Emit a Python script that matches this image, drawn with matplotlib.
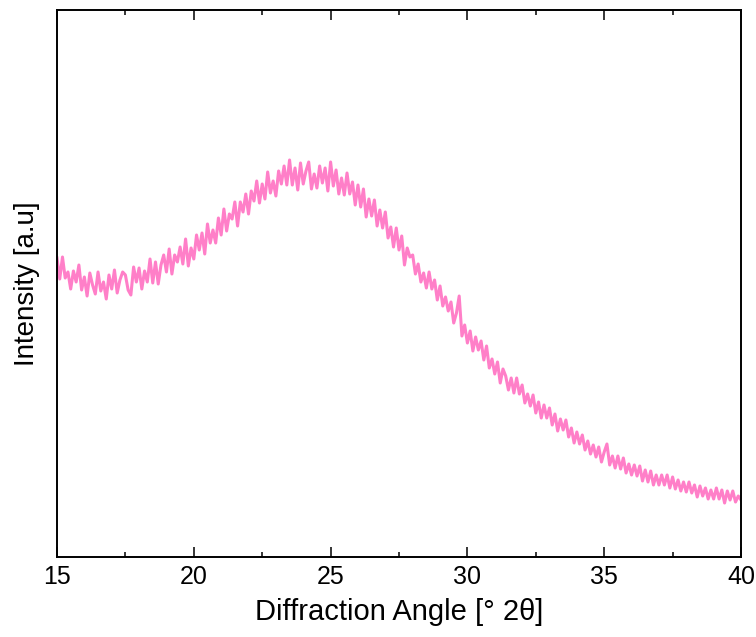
import numpy as np
import matplotlib.pyplot as plt

# XRD-mönster, 15-40 grader 2theta, steg 0.1
angle_start = 15.0
angle_step = 0.1
intensity = [
    299, 278, 300, 279, 285, 268, 286, 275, 292, 267,
    280, 261, 284, 272, 263, 285, 266, 275, 258, 282,
    268, 287, 264, 277, 285, 282, 267, 262, 290, 275,
    289, 268, 286, 275, 298, 274, 295, 273, 292, 302,
    285, 308, 283, 302, 295, 310, 293, 318, 291, 309,
    298, 322, 307, 324, 303, 333, 314, 327, 314, 339,
    322, 348, 326, 343, 338, 355, 331, 355, 345, 363,
    343, 366, 356, 376, 354, 373, 358, 385, 364, 376,
    361, 386, 373, 391, 372, 397, 372, 389, 367, 394,
    373, 386, 395, 368, 383, 369, 391, 374, 389, 366,
    395, 371, 387, 363, 379, 362, 384, 363, 375, 352,
    372, 350, 368, 340, 358, 341, 357, 331, 347, 329,
    345, 319, 330, 310, 329, 307, 321, 292, 309, 300,
    302, 283, 293, 275, 284, 269, 285, 268, 277, 257,
    271, 251, 260, 246, 255, 234, 244, 261, 221, 232,
    214, 226, 206, 220, 207, 216, 197, 211, 189, 198,
    183, 195, 174, 188, 181, 167, 179, 164, 179, 163,
    172, 154, 163, 151, 162, 144, 155, 139, 152, 139,
    149, 132, 143, 126, 138, 127, 137, 120, 129, 114,
    125, 113, 122, 107, 116, 103, 112, 100, 110, 95,
    105, 113, 92, 101, 89, 101, 88, 99, 84, 93,
    82, 92, 81, 91, 76, 87, 75, 86, 72, 82,
    72, 82, 72, 82, 69, 80, 68, 77, 66, 75,
    65, 75, 64, 72, 60, 71, 61, 69, 58, 67,
    58, 69, 58, 67, 54, 66, 57, 66, 55, 61,
    57,
]
two_theta = angle_start + angle_step * np.arange(len(intensity))

plt.rcParams['font.family'] = ['Liberation Sans', 'DejaVu Sans']

fig = plt.figure(figsize=(7.56, 6.37), dpi=100)
ax = fig.add_axes([57 / 756, 1 - 557 / 637, (741 - 57) / 756, (557 - 10) / 637])

ax.plot(two_theta, intensity, color='#ff7fc8', lw=2.2)

ax.set_xlim(15, 40)
ax.set_ylim(0, 547)
ax.set_xticks(np.arange(15, 41, 5))
ax.set_xticks(np.arange(17.5, 40, 5), minor=True)
ax.set_yticks([])
ax.tick_params(axis='x', which='both', direction='in', top=True,
               labelsize=18, pad=6, width=1.1)
ax.tick_params(axis='x', which='major', length=7)
ax.tick_params(axis='x', which='minor', length=3.5)
for s in ax.spines.values():
    s.set_linewidth(1.4)

ax.set_xlabel('Diffraction Angle [° 2θ]', fontsize=21, labelpad=6)
ax.set_ylabel('Intensity [a.u]', fontsize=20, labelpad=12)

fig.savefig('out.png', dpi=100)
